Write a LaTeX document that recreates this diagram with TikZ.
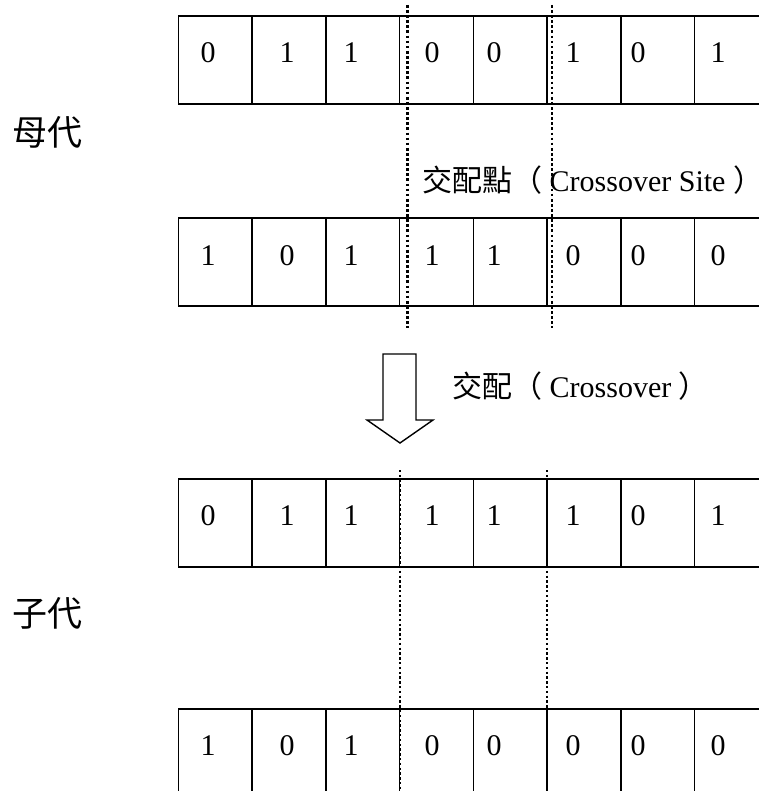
\documentclass[tikz,border=0pt]{standalone}
\usepackage{fontspec}
\setmainfont{Liberation Serif}
\newfontfamily\cjk{Noto Sans CJK TC}
\begin{document}
\begin{tikzpicture}[x=1bp,y=-1bp,
  cell/.style={draw, line width=1.6bp, minimum width=73.7bp, minimum height=88bp,
    inner sep=0pt, outer sep=0pt, anchor=north west},
  bit/.style={font=\fontsize{30bp}{36bp}\selectfont, inner sep=0pt, anchor=base},
  cut/.style={line width=2.7bp, dash pattern=on 2.7bp off 2.4bp},
  cutlow/.style={line width=2.2bp, dash pattern=on 2.4bp off 2.4bp},
  lab/.style={font=\cjk\fontsize{35bp}{40bp}\selectfont, inner sep=0pt, anchor=west},
  note/.style={font=\fontsize{30bp}{36bp}\selectfont, inner sep=0pt, anchor=base west},
  blockarrow/.style={draw, line width=1.4bp, fill=white, line join=miter}]
\useasboundingbox (0,0) rectangle (759,791);
\clip (0,0) rectangle (759,791);
% row 1 (parent A)
\foreach \xx/\d [count=\c] in {208/0,287/1,351/1,432/0,494/0,573/1,638/0,718/1}{
  \node[cell] (ra\c) at ({178.5+(\c-1)*73.7},16) {};
  \node[bit] (ba\c) at (\xx,63) {\d};
}
% row 2 (parent B)
\foreach \xx/\d [count=\c] in {208/1,287/0,351/1,432/1,494/1,573/0,638/0,718/0}{
  \node[cell] (rb\c) at ({178.5+(\c-1)*73.7},218) {};
  \node[bit] (bb\c) at (\xx,265) {\d};
}
% row 3 (child A)
\foreach \xx/\d [count=\c] in {208/0,287/1,351/1,432/1,494/1,573/1,638/0,718/1}{
  \node[cell] (rc\c) at ({178.5+(\c-1)*73.7},479) {};
  \node[bit] (bc\c) at (\xx,525) {\d};
}
% row 4 (child B)
\foreach \xx/\d [count=\c] in {208/1,287/0,351/1,432/0,494/0,573/0,638/0,718/0}{
  \node[cell] (rd\c) at ({178.5+(\c-1)*73.7},709) {};
  \node[bit] (bd\c) at (\xx,755) {\d};
}
% crossover sites (upper)
\coordinate (u1t) at (407.5,5);   \coordinate (u1b) at (407.5,328);
\coordinate (u2t) at (552,5);     \coordinate (u2b) at (552,328);
\draw[cut] (u1t) -- (u1b);
\draw[cut] (u2t) -- (u2b);
% crossover sites (lower)
\coordinate (l1t) at (400,470);   \coordinate (l1b) at (400,791);
\coordinate (l2t) at (547,470);   \coordinate (l2b) at (547,791);
\draw[cutlow] (l1t) -- (l1b);
\draw[cutlow] (l2t) -- (l2b);
% labels
\node[lab] (parents) at (12,132) {母代};
\node[lab] (children) at (12,613) {子代};
\node[note] (site) at (422,191) {{\cjk 交配點（} Crossover Site {\cjk\makebox[0.4em][l]{）}}};
% block arrow
\draw[blockarrow] (383,354) -- (416,354) -- (416,420) -- (433,420) -- (400,443)
  -- (367,420) -- (383,420) -- cycle;
\node[note] (xover) at (452,397) {{\cjk 交配（} Crossover {\cjk\makebox[0.4em][l]{）}}};
\end{tikzpicture}
\end{document}
